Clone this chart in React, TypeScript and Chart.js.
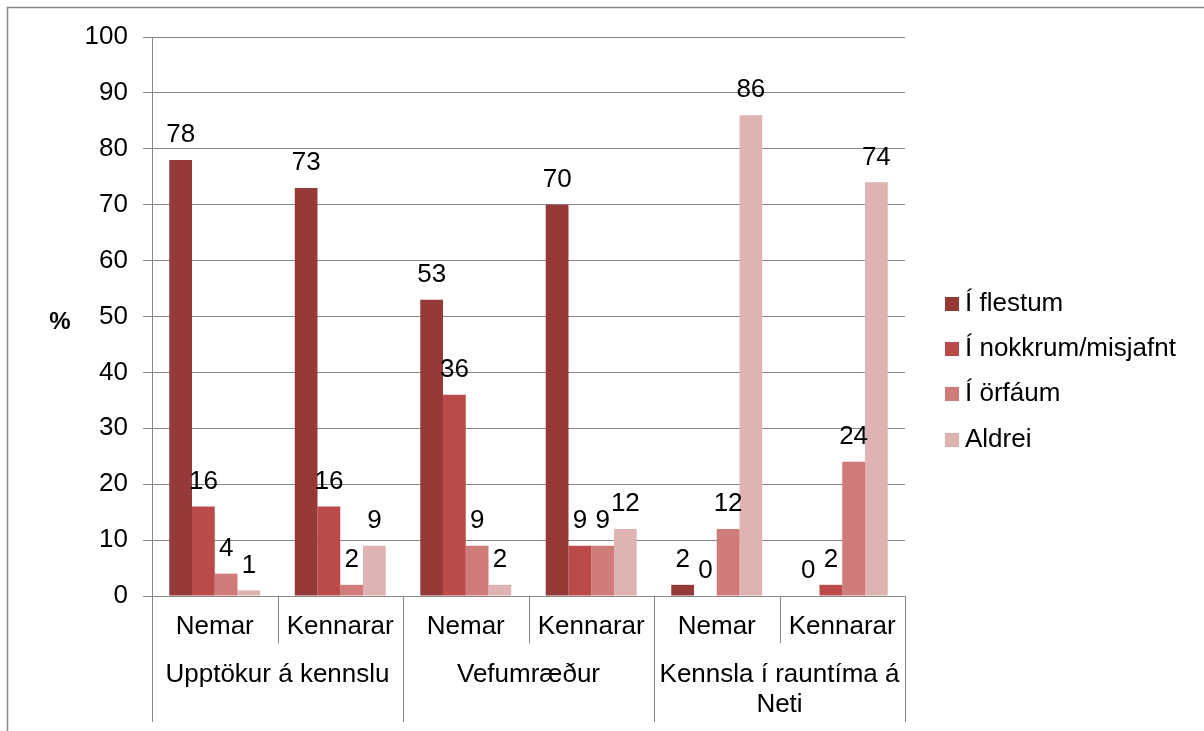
import React, { useEffect, useRef } from "react";
import { Chart, registerables } from "chart.js";

Chart.register(...registerables);

const categories = ["Nemar", "Kennarar", "Nemar", "Kennarar", "Nemar", "Kennarar"];
const groups = ["Upptökur á kennslu", "Vefumræður", "Kennsla í rauntíma á Neti"];
const seriesNames = ["Í flestum", "Í nokkrum/misjafnt", "Í örfáum", "Aldrei"];
const flestum = [78, 73, 53, 70, 2, 0];
const nokkrum = [16, 16, 36, 9, 0, 2];
const orfaum = [4, 2, 9, 9, 12, 24];
const aldrei = [1, 9, 2, 12, 86, 74];
const colors = ["#963A39", "#BA4B49", "#CF7B7A", "#E0B3B3"];
const yTicks = [0, 10, 20, 30, 40, 50, 60, 70, 80, 90, 100];

const FAMILY = "'Liberation Sans', Arial, sans-serif";
const FONT = "26px " + FAMILY;
const GRAY = "#878787";

function wrap(ctx: CanvasRenderingContext2D, text: string, maxW: number): string[] {
  const words = text.split(" ");
  const lines: string[] = [];
  let cur = "";
  for (const w of words) {
    const t = cur ? cur + " " + w : w;
    if (ctx.measureText(t).width > maxW && cur) {
      lines.push(cur);
      cur = w;
    } else cur = t;
  }
  if (cur) lines.push(cur);
  return lines;
}

const decorPlugin = {
  id: "decor",
  afterDatasetsDraw(chart: any) {
    const ctx = chart.ctx as CanvasRenderingContext2D;
    ctx.save();
    ctx.font = FONT;
    ctx.fillStyle = "#000";
    ctx.textAlign = "center";
    ctx.textBaseline = "middle";
    chart.data.datasets.forEach((ds: any, di: number) => {
      const meta = chart.getDatasetMeta(di);
      meta.data.forEach((el: any, i: number) => {
        ctx.fillText(String(ds.data[i]), el.x, el.y - 25);
      });
    });
    ctx.restore();
  },
  afterDraw(chart: any) {
    const ctx = chart.ctx as CanvasRenderingContext2D;
    const area = chart.chartArea;
    const x = chart.scales.x;
    ctx.save();
    // outer frame
    ctx.strokeStyle = GRAY;
    ctx.lineWidth = 1.5;
    ctx.beginPath();
    ctx.moveTo(7.5, 731);
    ctx.lineTo(7.5, 7.5);
    ctx.lineTo(1204, 7.5);
    ctx.stroke();

    // % label
    ctx.fillStyle = "#000";
    ctx.font = "bold 24px " + FAMILY;
    ctx.textAlign = "center";
    ctx.textBaseline = "middle";
    ctx.fillText("%", 60, 322);

    // x labels and dividers
    ctx.font = FONT;
    const n = categories.length;
    const step = (area.right - area.left) / n;
    ctx.strokeStyle = GRAY;
    ctx.lineWidth = 1;
    for (let i = 0; i <= n; i++) {
      const bx = Math.round(area.left + step * i) + 0.5;
      const long = i % 2 === 0;
      ctx.beginPath();
      ctx.moveTo(bx, area.bottom);
      ctx.lineTo(bx, long ? area.bottom + 126 : area.bottom + 47);
      ctx.stroke();
    }
    categories.forEach((c, i) => {
      ctx.fillText(c, x.getPixelForValue(i), area.bottom + 31);
    });
    groups.forEach((g, gi) => {
      const cx = area.left + step * (gi * 2 + 1);
      const lines = wrap(ctx, g, step * 2 - 4);
      lines.forEach((l, li) => {
        ctx.fillText(l, cx, area.bottom + 79 + li * 30);
      });
    });

    // legend
    ctx.textAlign = "left";
    const rows = [304, 349, 394, 440];
    seriesNames.forEach((s, i) => {
      ctx.fillStyle = colors[i];
      ctx.fillRect(945, rows[i] - 7, 14, 14);
      ctx.fillStyle = "#000";
      ctx.fillText(s, 965, rows[i]);
    });
    ctx.restore();
  },
};

export default function App() {
  const ref = useRef<HTMLCanvasElement>(null);
  useEffect(() => {
    if (!ref.current) return;
    const chart = new Chart(ref.current, {
      type: "bar",
      data: {
        labels: categories,
        datasets: [flestum, nokkrum, orfaum, aldrei].map((d, i) => ({
          label: seriesNames[i],
          data: d,
          backgroundColor: colors[i],
          borderWidth: 0,
          categoryPercentage: 0.725,
          barPercentage: 1,
        })),
      },
      options: {
        animation: false,
        responsive: false,
        devicePixelRatio: 1,
        layout: { padding: { top: 37, right: 299, bottom: 135, left: 0 } },
        plugins: { legend: { display: false }, tooltip: { enabled: false } },
        scales: {
          x: {
            ticks: { display: false },
            grid: { display: false },
            border: { display: true, color: GRAY, width: 1 },
            afterFit: (s: any) => {
              s.height = 0;
            },
          },
          y: {
            min: 0,
            max: 100,
            afterBuildTicks: (s: any) => {
              s.ticks = yTicks.map((v) => ({ value: v }));
            },
            ticks: {
              color: "#000",
              font: { family: FAMILY, size: 26 },
              padding: 15,
            },
            grid: { color: GRAY, tickLength: 9, lineWidth: 1 },
            border: { display: true, color: GRAY, width: 1 },
            afterFit: (s: any) => {
              s.width = 152;
            },
          },
        },
      },
      plugins: [decorPlugin],
    });
    return () => chart.destroy();
  }, []);
  return (
    <div style={{ position: "fixed", left: 0, top: 0, width: 1204, height: 731, background: "#fff" }}>
      <canvas ref={ref} width={1204} height={731} />
    </div>
  );
}
